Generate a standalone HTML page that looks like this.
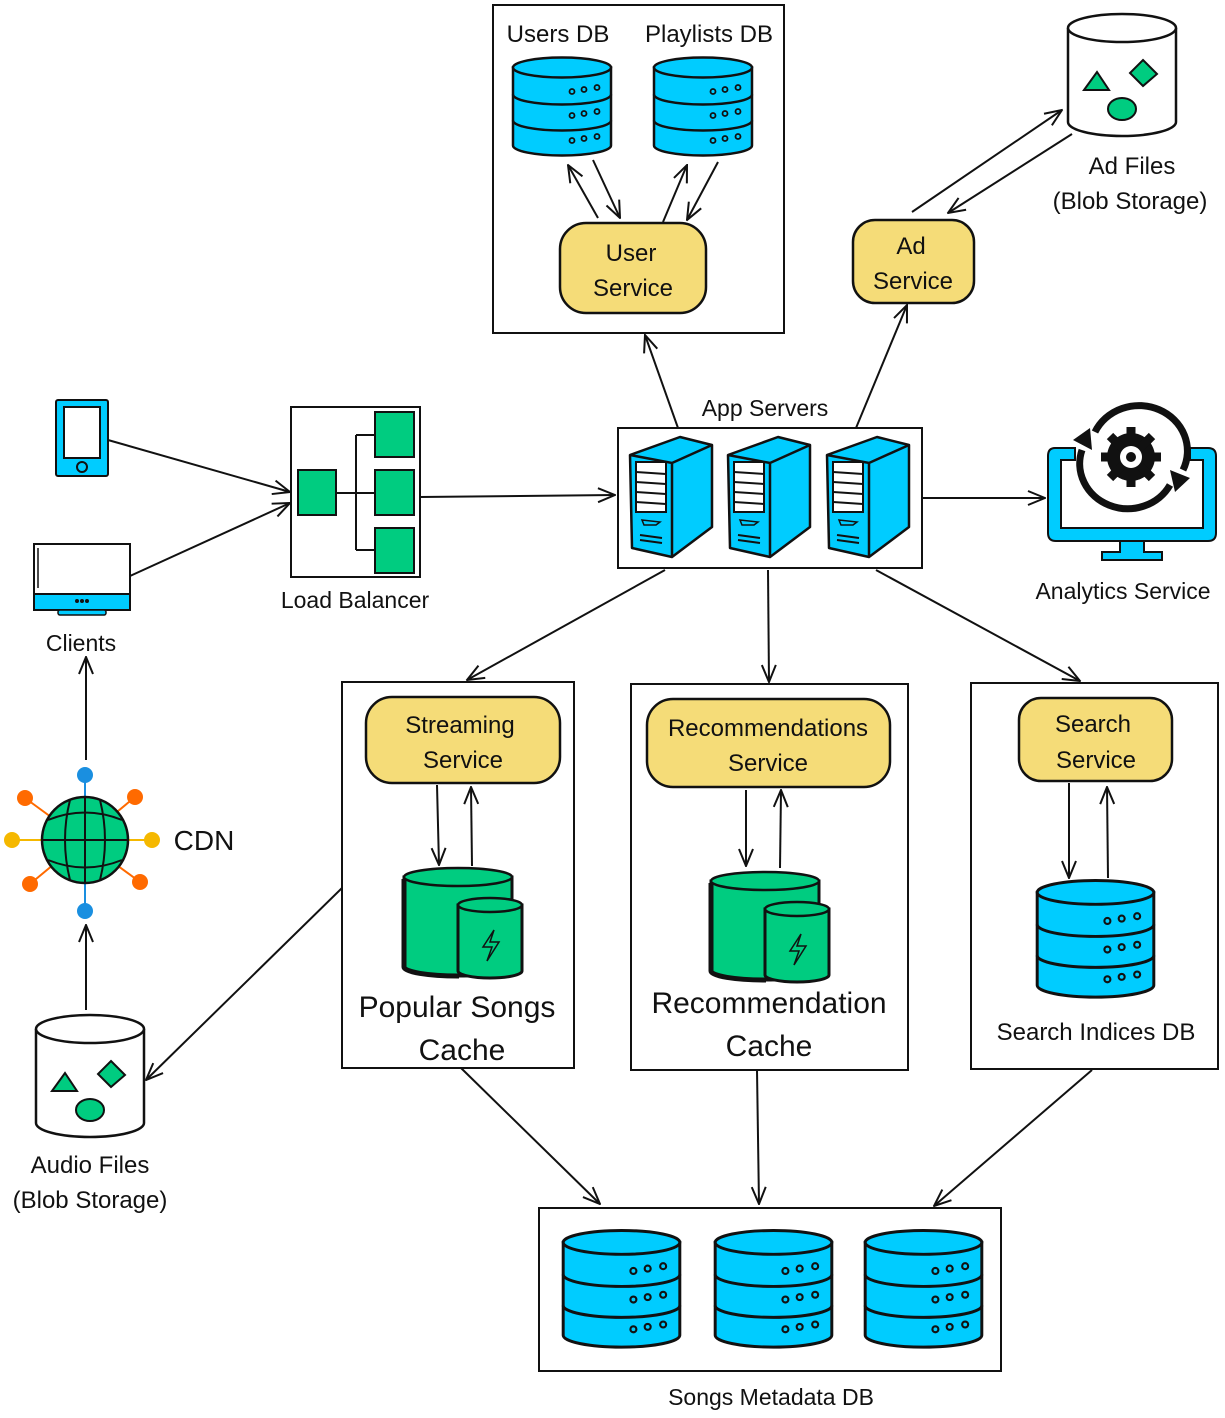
<!DOCTYPE html>
<html><head><meta charset="utf-8"><style>
html,body{margin:0;padding:0;background:#fff}
svg{display:block}
text{font-family:"Liberation Sans",sans-serif;fill:#111;text-anchor:middle}
</style></head><body>
<svg width="1225" height="1418" viewBox="0 0 1225 1418" xmlns="http://www.w3.org/2000/svg">
<defs>
<marker id="a" viewBox="0 0 20 20" refX="19" refY="10" markerWidth="20" markerHeight="20" markerUnits="userSpaceOnUse" orient="auto">
<path d="M2,3 L19,10 L2,17" fill="none" stroke="#111" stroke-width="2"/>
</marker>
<symbol id="db" viewBox="0 0 100 100" overflow="visible">
<path d="M1,10 L1,88 A49,10 0 0 0 99,88 L99,10 Z" fill="#00ccff" stroke="#111" stroke-width="2.5"/>
<ellipse cx="50" cy="10" rx="49" ry="10" fill="#00ccff" stroke="#111" stroke-width="2.5"/>
<path d="M1,37 A49,10 0 0 0 99,37 M1,63 A49,10 0 0 0 99,63" fill="none" stroke="#111" stroke-width="2.5"/>
<g fill="none" stroke="#111" stroke-width="1.8">
<circle cx="60" cy="34" r="2.5"/><circle cx="72" cy="32" r="2.5"/><circle cx="85" cy="30" r="2.5"/>
<circle cx="60" cy="58" r="2.5"/><circle cx="72" cy="56" r="2.5"/><circle cx="85" cy="54" r="2.5"/>
<circle cx="60" cy="83" r="2.5"/><circle cx="72" cy="81" r="2.5"/><circle cx="85" cy="79" r="2.5"/>
</g>
</symbol>
<symbol id="cache" viewBox="0 0 120 112" overflow="visible">
<path d="M1,10 L1,100 A54,9 0 0 0 109,100 L109,10 Z" fill="#00cc80" stroke="#111" stroke-width="3"/>
<path d="M1,12 L1,100 A54,9 0 0 0 56,109" fill="none" stroke="#111" stroke-width="5"/>
<ellipse cx="55" cy="10" rx="54" ry="9" fill="#00cc80" stroke="#111" stroke-width="2.5"/>
<path d="M55,38 L55,104 A32,7 0 0 0 119,104 L119,38 Z" fill="#00cc80" stroke="#111" stroke-width="3"/>
<ellipse cx="87" cy="38" rx="32" ry="7" fill="#00cc80" stroke="#111" stroke-width="2.5"/>
<path d="M91,63 L80,80 L89,80 L84,94 L96,75 L87,75 Z" fill="none" stroke="#111" stroke-width="1.5"/>
</symbol>
<symbol id="srv" viewBox="0 0 84 122" overflow="visible">
<path d="M0,18 L50,0 L82,8 L82,90 L42,120 L2,111 Z" fill="#00ccff" stroke="#111" stroke-width="2.5" stroke-linejoin="round"/>
<path d="M0,18 L42,26 L82,8 M42,26 L42,120" fill="none" stroke="#111" stroke-width="2.5"/>
<rect x="6" y="25" width="30" height="50" fill="#fff" stroke="#111" stroke-width="2"/>
<path d="M6,35 L36,37 M6,45 L36,47 M6,55 L36,57 M6,65 L36,67" stroke="#111" stroke-width="2"/>
<path d="M12,83 L30,85 L26,88 L14,88 Z" fill="#00ccff" stroke="#111" stroke-width="1.5"/>
<path d="M10,98 L32,101 M10,103 L32,106" stroke="#111" stroke-width="2"/>
</symbol>
<symbol id="blob" viewBox="0 0 110 124" overflow="visible">
<path d="M1,14 L1,108 A54,14 0 0 0 109,108 L109,14" fill="#fff" stroke="#111" stroke-width="2.5"/>
<ellipse cx="55" cy="14" rx="54" ry="14" fill="#fff" stroke="#111" stroke-width="2.5"/>
<path d="M17,76 L30,58 L42,76 Z" fill="#00cc80" stroke="#111" stroke-width="2"/>
<path d="M76,46 L90,60 L76,72 L63,59 Z" fill="#00cc80" stroke="#111" stroke-width="2"/>
<ellipse cx="55" cy="95" rx="14" ry="11" fill="#00cc80" stroke="#111" stroke-width="2"/>
</symbol>
</defs>

<g fill="#fff" stroke="#111" stroke-width="2">
<rect x="493" y="5" width="291" height="328"/>
<rect x="618" y="428" width="304" height="140"/>
<rect x="342" y="682" width="232" height="386"/>
<rect x="631" y="684" width="277" height="386"/>
<rect x="971" y="683" width="247" height="386"/>
<rect x="539" y="1208" width="462" height="163"/>
<rect x="291" y="407" width="129" height="170"/>
</g>

<g fill="#f5dc78" stroke="#111" stroke-width="2.5">
<rect x="560" y="223" width="146" height="90" rx="26"/>
<rect x="853" y="220" width="121" height="83" rx="22"/>
<rect x="366" y="697" width="194" height="86" rx="26"/>
<rect x="647" y="699" width="243" height="88" rx="26"/>
<rect x="1019" y="698" width="153" height="83" rx="22"/>
</g>

<use href="#db" x="512" y="57" width="100" height="101"/>
<use href="#db" x="653" y="57" width="100" height="101"/>
<use href="#db" x="1036" y="880" width="119" height="120"/>
<use href="#db" x="562" y="1230" width="119" height="120"/>
<use href="#db" x="714" y="1230" width="119" height="120"/>
<use href="#db" x="864" y="1230" width="119" height="120"/>

<use href="#cache" x="403" y="867" width="120" height="112"/>
<use href="#cache" x="710" y="871" width="120" height="112"/>

<use href="#srv" x="630" y="437" width="84" height="122"/>
<use href="#srv" x="728" y="437" width="84" height="122"/>
<use href="#srv" x="827" y="437" width="84" height="122"/>

<use href="#blob" x="1067" y="14" width="110" height="124"/>
<use href="#blob" x="35" y="1015" width="110" height="124"/>

<g stroke="#111" stroke-width="2">
<path d="M336,493 L375,493 M356,435 L356,550 M356,435 L375,435 M356,550 L375,550" fill="none"/>
<rect x="298" y="470" width="38" height="45" fill="#00cc80"/>
<rect x="375" y="412" width="39" height="45" fill="#00cc80"/>
<rect x="375" y="470" width="39" height="45" fill="#00cc80"/>
<rect x="375" y="528" width="39" height="45" fill="#00cc80"/>
</g>

<rect x="56" y="400" width="52" height="76" rx="2" fill="#00ccff" stroke="#111" stroke-width="2"/>
<rect x="64" y="407" width="36" height="51" fill="#fff" stroke="#111" stroke-width="2"/>
<circle cx="82" cy="467" r="5" fill="none" stroke="#111" stroke-width="2"/>
<rect x="34" y="544" width="96" height="66" fill="#fff" stroke="#111" stroke-width="2"/>
<rect x="34" y="594" width="96" height="16" fill="#00ccff" stroke="#111" stroke-width="2"/>
<rect x="58" y="610" width="48" height="5" rx="2" fill="#00ccff" stroke="#111" stroke-width="1.5"/>
<path d="M38,548 L38,588" stroke="#111" stroke-width="1.5"/>
<g fill="#111"><circle cx="77" cy="601" r="2"/><circle cx="82" cy="601" r="2"/><circle cx="87" cy="601" r="2"/></g>

<path d="M1075,448 L1055,448 Q1048,448 1048,456 L1048,533 Q1048,541 1056,541 L1208,541 Q1216,541 1216,533 L1216,456 Q1216,448 1208,448 L1190,448 L1190,460 L1203,460 L1203,528 L1061,528 L1061,460 L1075,460 Z" fill="#00ccff" stroke="#111" stroke-width="2"/>
<path d="M1120,541 L1120,552 L1102,552 L1102,560 L1162,560 L1162,552 L1144,552 L1144,541 Z" fill="#00ccff" stroke="#111" stroke-width="2"/>
<path d="M1095,432 A48,45 0 0 1 1183,470" fill="none" stroke="#111" stroke-width="7"/>
<path d="M1170,485 A48,45 0 0 1 1082,450" fill="none" stroke="#111" stroke-width="7"/>
<path d="M1073,440 L1090,428 L1092,450 Z M1190,478 L1175,492 L1170,470 Z" fill="#111"/>
<circle cx="1131" cy="457" r="24" fill="#111"/>
<g stroke="#111" stroke-width="9"><path d="M1131,427 L1131,487 M1101,457 L1161,457 M1110,436 L1152,478 M1152,436 L1110,478"/></g>
<circle cx="1131" cy="457" r="11" fill="#fff"/>
<circle cx="1131" cy="457" r="5" fill="#111"/>

<g stroke-width="2">
<path d="M85,775 L85,911" stroke="#1a8fe0"/>
<path d="M12,840 L152,840" stroke="#f5b800"/>
<path d="M25,798 L140,882 M135,797 L30,884" stroke="#ff6a00"/>
</g>
<circle cx="85" cy="775" r="8" fill="#1a8fe0"/><circle cx="85" cy="911" r="8" fill="#1a8fe0"/>
<circle cx="12" cy="840" r="8" fill="#f5b800"/><circle cx="152" cy="840" r="8" fill="#f5b800"/>
<circle cx="25" cy="798" r="8" fill="#ff6a00"/><circle cx="135" cy="797" r="8" fill="#ff6a00"/>
<circle cx="30" cy="884" r="8" fill="#ff6a00"/><circle cx="140" cy="882" r="8" fill="#ff6a00"/>
<circle cx="85" cy="840" r="43" fill="#00cc80" stroke="#111" stroke-width="2.5"/>
<g fill="none" stroke="#111" stroke-width="2">
<path d="M42,840 L128,840 M85,797 L85,883 M48,820 Q85,805 122,820 M48,860 Q85,875 122,860 M70,800 Q60,840 70,880 M100,800 Q110,840 100,880"/>
</g>

<g fill="none" stroke="#111" stroke-width="2" marker-end="url(#a)">
<path d="M108,440 L290,492"/>
<path d="M130,576 L290,503"/>
<path d="M420,497 L615,495"/>
<path d="M678,428 L645,335"/>
<path d="M856,428 L907,305"/>
<path d="M922,498 L1045,498"/>
<path d="M665,570 L467,680"/>
<path d="M768,570 L769,682"/>
<path d="M876,570 L1080,681"/>
<path d="M598,218 L568,165"/>
<path d="M593,160 L620,218"/>
<path d="M663,222 L687,165"/>
<path d="M718,162 L687,220"/>
<path d="M912,212 L1062,110"/>
<path d="M1072,134 L948,213"/>
<path d="M437,785 L439,865"/>
<path d="M472,866 L471,787"/>
<path d="M746,790 L746,866"/>
<path d="M780,868 L781,790"/>
<path d="M1069,783 L1069,878"/>
<path d="M1108,878 L1107,787"/>
<path d="M342,888 L146,1080"/>
<path d="M86,1010 L86,925"/>
<path d="M86,760 L86,657"/>
<path d="M461,1068 L600,1204"/>
<path d="M757,1070 L759,1204"/>
<path d="M1092,1070 L934,1206"/>
</g>

<g font-size="24">
<text x="558" y="42">Users DB</text>
<text x="709" y="42">Playlists DB</text>
<text x="631" y="261">User</text><text x="633" y="296">Service</text>
<text x="911" y="254">Ad</text><text x="913" y="289">Service</text>
<text x="1132" y="174">Ad Files</text><text x="1130" y="209">(Blob Storage)</text>
<text x="460" y="733">Streaming</text><text x="463" y="768">Service</text>
<text x="768" y="736">Recommendations</text><text x="768" y="771">Service</text>
<text x="1093" y="732">Search</text><text x="1096" y="768">Service</text>
<text x="1096" y="1040">Search Indices DB</text>
<text x="90" y="1173">Audio Files</text><text x="90" y="1208">(Blob Storage)</text>
</g>
<g font-size="23">
<text x="765" y="416">App Servers</text>
<text x="1123" y="599">Analytics Service</text>
<text x="355" y="608">Load Balancer</text>
<text x="81" y="651">Clients</text>
<text x="771" y="1405">Songs Metadata DB</text>
</g>
<text x="204" y="850" font-size="28">CDN</text>
<g font-size="30">
<text x="457" y="1017">Popular Songs</text><text x="462" y="1060">Cache</text>
<text x="769" y="1013">Recommendation</text><text x="769" y="1056">Cache</text>
</g>
</svg>
</body></html>
